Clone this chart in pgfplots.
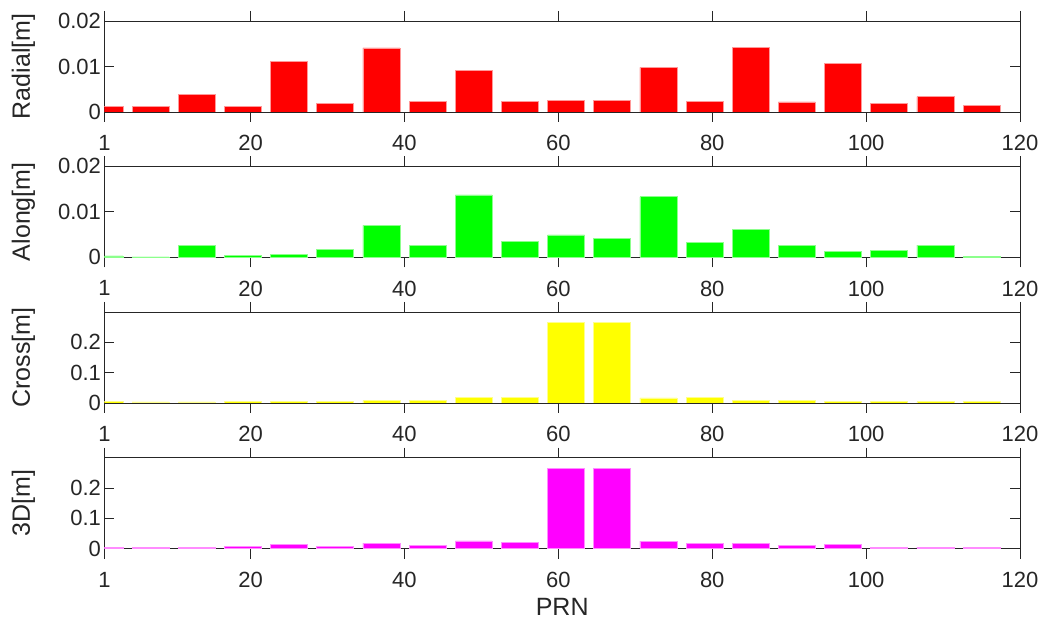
\documentclass[border=0pt]{standalone}
\usepackage{pgfplots}
\usepackage{pgfplotstable}
\pgfplotsset{compat=1.18}
\usepackage{fontspec}
\setmainfont{Liberation Sans}

\definecolor{axgray}{gray}{0.15}
\definecolor{barred}{rgb}{1,0,0}
\definecolor{bargreen}{rgb}{0,1,0}
\definecolor{baryellow}{rgb}{1,1,0}
\definecolor{barmagenta}{rgb}{1,0,1}

% Orbit error per satellite (PRN), in metres
\pgfplotstableread{
prn radial along  cross  threed
1   0.0013 0.0003 0.0044 0.0054
7   0.0013 0.0001 0.0033 0.0043
13  0.0039 0.0027 0.0033 0.0054
19  0.0013 0.0004 0.0044 0.0075
25  0.0111 0.0007 0.0055 0.0129
31  0.0019 0.0017 0.0055 0.0065
37  0.0141 0.0070 0.0077 0.0183
43  0.0023 0.0027 0.0077 0.0097
49  0.0091 0.0137 0.0176 0.0258
55  0.0023 0.0035 0.0182 0.0199
61  0.0025 0.0049 0.2660 0.2650
67  0.0026 0.0042 0.2650 0.2650
73  0.0098 0.0133 0.0165 0.0247
79  0.0023 0.0033 0.0176 0.0183
85  0.0142 0.0061 0.0077 0.0172
91  0.0022 0.0027 0.0077 0.0097
97  0.0107 0.0013 0.0055 0.0129
103 0.0019 0.0016 0.0055 0.0054
109 0.0034 0.0027 0.0044 0.0054
115 0.0014 0.0002 0.0044 0.0054
}\prndata

\pgfplotsset{
  prnpanel/.style={
    scale only axis, width=915.6pt, height=91pt,
    anchor=south west,
    xmin=1, xmax=120, ymin=0,
    xtick={1,20,40,60,80,100,120},
    tick align=inside, major tick length=10pt,
    axis line style={axgray, line width=0.9pt},
    every tick/.style={axgray, line width=0.9pt},
    tick label style={font=\fontsize{22}{26}\selectfont, text=axgray},
    label style={font=\fontsize{25}{30}\selectfont, text=axgray},
    /pgf/number format/assume math mode=true,
    scaled y ticks=false,
    yticklabel style={/pgf/number format/fixed, /pgf/number format/precision=2},
    xticklabel style={yshift=-10pt},
    ylabel style={at={(axis description cs:-0.0885,0.5)}, anchor=center},
    xlabel style={at={(axis description cs:0.5,-0.637)}, anchor=center},
    ybar, bar width=4.8,
  },
  baseline/.style={sharp plot, axgray, line width=0.9pt, forget plot},
}

\begin{document}
\begin{tikzpicture}
\useasboundingbox (0,0) rectangle (1044pt,621pt);

% Radial
\begin{axis}[prnpanel, at={(104.4pt,509pt)},
  ymax=0.02, ytick={0,0.01,0.02}, ylabel={Radial[m]}]
  \addplot[baseline] coordinates {(1,0) (120,0)};
  \addplot[fill=barred, draw=barred!40!white, line width=0.6pt] table[x=prn, y=radial] {\prndata};
\end{axis}

% Along-track
\begin{axis}[prnpanel, at={(104.4pt,363.7pt)},
  ymax=0.02, ytick={0,0.01,0.02}, ylabel={Along[m]}]
  \addplot[baseline] coordinates {(1,0) (120,0)};
  \addplot[fill=bargreen, draw=bargreen!45!white, line width=0.6pt] table[x=prn, y=along] {\prndata};
\end{axis}

% Cross-track
\begin{axis}[prnpanel, at={(104.4pt,218pt)},
  ymax=0.3, ytick={0,0.1,0.2}, ylabel={Cross[m]}]
  \addplot[baseline] coordinates {(1,0) (120,0)};
  \addplot[fill=baryellow, draw=baryellow!45!white, line width=0.6pt] table[x=prn, y=cross] {\prndata};
\end{axis}

% 3D
\begin{axis}[prnpanel, at={(104.4pt,72.3pt)},
  ymax=0.3, ytick={0,0.1,0.2}, ylabel={3D[m]}, xlabel={PRN}]
  \addplot[baseline] coordinates {(1,0) (120,0)};
  \addplot[fill=barmagenta, draw=barmagenta!45!white, line width=0.6pt] table[x=prn, y=threed] {\prndata};
\end{axis}
\end{tikzpicture}
\end{document}
